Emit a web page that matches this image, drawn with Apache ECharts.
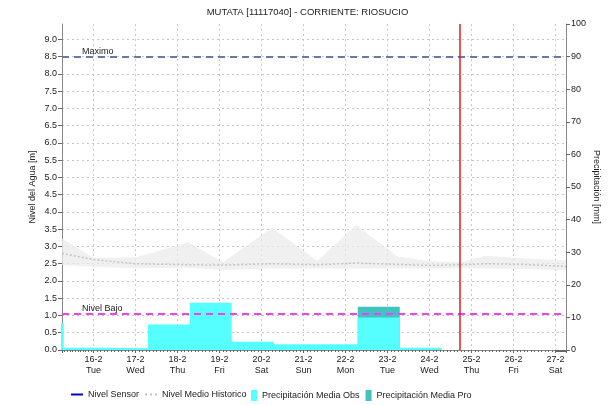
<!DOCTYPE html>
<html>
<head>
<meta charset="utf-8">
<script src="https://cdn.jsdelivr.net/npm/echarts@6/dist/echarts.min.js"></script>
<style>
  html, body { margin: 0; padding: 0; background: #fff; }
  #chart { width: 615px; height: 405px; }
</style>
</head>
<body>
<div id="chart"></div>
<script>
// banda historica (min / max) y nivel medio historico [m]
var histTimes = ['2021-02-15 06:00', '2021-02-16 00:00', '2021-02-17 00:00', '2021-02-18 06:00',
    '2021-02-19 02:00', '2021-02-20 06:00', '2021-02-21 08:00', '2021-02-22 06:00',
    '2021-02-23 06:00', '2021-02-24 00:00', '2021-02-24 18:00', '2021-02-25 08:00',
    '2021-02-26 06:00', '2021-02-27 06:00'];
var histMax = [3.23, 2.67, 2.68, 3.12, 2.54, 3.54, 2.58, 3.62, 2.70, 2.58, 2.54, 2.73, 2.65, 2.60];
var histMin = [2.46, 2.41, 2.37, 2.38, 2.32, 2.36, 2.36, 2.36, 2.36, 2.36, 2.37, 2.36, 2.35, 2.31];
var histMedio = [2.80, 2.62, 2.50, 2.47, 2.46, 2.50, 2.47, 2.52, 2.48, 2.45, 2.47, 2.50, 2.48, 2.42];

// precipitacion diaria (de 07:00 a 07:00) [mm]
var precipStart = ['2021-02-14 07:00', '2021-02-15 07:00', '2021-02-16 07:00', '2021-02-17 07:00',
    '2021-02-18 07:00', '2021-02-19 07:00', '2021-02-20 07:00', '2021-02-21 07:00',
    '2021-02-22 07:00', '2021-02-23 07:00', '2021-02-24 07:00'];
var precipObs = [8.2, 0.7, 0.5, 7.8, 14.5, 2.5, 1.8, 1.8, 10.0, 0.7, 0];
var precipProStart = ['2021-02-22 07:00', '2021-02-23 07:00'];
var precipPro = [13.3, 0];

// niveles de referencia
var nivelMaximo = 8.5;
var nivelBajo = 1.05;
var ahora = '2021-02-24 17:00';

var dias = ['Sun', 'Mon', 'Tue', 'Wed', 'Thu', 'Fri', 'Sat'];
var fuente = 'Liberation Sans';

function pares(xs, ys) {
    return xs.map(function (x, i) { return [x, ys[i]]; });
}

var myChart = echarts.init(document.getElementById('chart'));

var option = {
    animation: false,
    textStyle: { fontFamily: fuente },
    title: {
        text: 'MUTATA [11117040] - CORRIENTE: RIOSUCIO',
        left: 'center',
        top: 2,
        textStyle: { fontSize: 9.5, fontWeight: 'normal', color: '#222', fontFamily: fuente }
    },
    grid: { left: 62, right: 49, top: 24, bottom: 55 },
    legend: [{
        left: 71, top: 390, padding: 0,
        itemWidth: 12, itemHeight: 2, itemGap: 6,
        textStyle: { fontSize: 9, color: '#222' },
        data: [
            { name: 'Nivel Sensor', icon: 'rect' },
            { name: 'Nivel Medio Historico', icon: 'path://M0,0h2v2h-2z M5,0h2v2h-2z M10,0h2v2h-2z' }
        ]
    }, {
        left: 251, top: 390, padding: 0,
        itemWidth: 6, itemHeight: 11, itemGap: 6,
        textStyle: { fontSize: 9, color: '#222' },
        data: [
            { name: 'Precipitación Media Obs', icon: 'rect' },
            { name: 'Precipitación Media Pro', icon: 'rect' }
        ]
    }],
    xAxis: {
        type: 'time',
        min: '2021-02-15 06:00',
        max: '2021-02-27 06:00',
        minInterval: 86400000,
        maxInterval: 86400000,
        axisLine: { lineStyle: { color: '#888' } },
        axisTick: { show: true, length: 3, lineStyle: { color: '#666' } },
        minorTick: { show: true, splitNumber: 12, length: 2, lineStyle: { color: '#666' } },
        splitLine: { show: true, lineStyle: { color: '#c8c8c8', type: [2, 3] } },
        axisLabel: {
            fontSize: 9, color: '#222', margin: 4, lineHeight: 11,
            formatter: function (v) {
                var d = new Date(v);
                return d.getDate() + '-' + (d.getMonth() + 1) + '\n' + dias[d.getDay()];
            }
        }
    },
    yAxis: [{
        type: 'value',
        name: 'Nivel del Agua [m]',
        nameLocation: 'middle',
        nameMoveOverlap: false,
        nameGap: 25,
        nameTextStyle: { fontSize: 9, color: '#222' },
        min: 0,
        max: nivelMaximo / 0.9,
        interval: 0.5,
        axisLine: { show: true, lineStyle: { color: '#888' } },
        axisTick: { show: true, length: 4, lineStyle: { color: '#666' } },
        splitLine: { show: true, showMaxLine: false, lineStyle: { color: '#c8c8c8', type: [2, 3] } },
        axisLabel: {
            fontSize: 9, color: '#222', margin: 5, showMaxLabel: false,
            formatter: function (v) { return v.toFixed(1); }
        }
    }, {
        type: 'value',
        name: 'Precipitación [mm]',
        nameLocation: 'middle',
        nameMoveOverlap: false,
        nameRotate: -90,
        nameGap: 26,
        nameTextStyle: { fontSize: 9, color: '#222' },
        position: 'right',
        min: 0,
        max: 100,
        interval: 10,
        axisLine: { show: true, lineStyle: { color: '#888' } },
        axisTick: { show: true, length: 4, lineStyle: { color: '#666' } },
        splitLine: { show: false },
        axisLabel: { fontSize: 9, color: '#222', margin: 5 }
    }],
    series: [{
        name: 'bandaMin',
        type: 'line',
        stack: 'hist',
        symbol: 'none',
        lineStyle: { opacity: 0 },
        data: pares(histTimes, histMin),
        z: 1
    }, {
        name: 'bandaRango',
        type: 'line',
        stack: 'hist',
        symbol: 'none',
        lineStyle: { opacity: 0 },
        areaStyle: { color: '#ebebeb', opacity: 0.75 },
        data: pares(histTimes, histMax.map(function (v, i) { return v - histMin[i]; })),
        z: 1
    }, {
        name: 'Nivel Medio Historico',
        type: 'line',
        symbol: 'none',
        color: '#c4c4c4',
        lineStyle: { color: '#c4c4c4', width: 1.5, type: [2, 2] },
        data: pares(histTimes, histMedio),
        z: 2
    }, {
        name: 'Precipitación Media Pro',
        type: 'line',
        yAxisIndex: 1,
        step: 'end',
        symbol: 'none',
        color: '#40c4c0',
        lineStyle: { opacity: 0 },
        areaStyle: { color: '#40c4c0', opacity: 1 },
        data: pares(precipProStart, precipPro),
        z: 3
    }, {
        name: 'Precipitación Media Obs',
        type: 'line',
        yAxisIndex: 1,
        step: 'end',
        symbol: 'none',
        color: '#55ffff',
        lineStyle: { opacity: 0 },
        areaStyle: { color: '#55ffff', opacity: 1 },
        data: pares(precipStart, precipObs),
        z: 4
    }, {
        name: 'Nivel Sensor',
        type: 'line',
        symbol: 'none',
        color: '#0000cc',
        lineStyle: { color: '#0000cc', width: 1.5 },
        data: [],
        z: 6,
        markLine: {
            silent: true,
            symbol: ['none', 'none'],
            data: [{
                yAxis: nivelMaximo,
                lineStyle: { color: '#6a78a8', width: 2, type: [7, 5] },
                label: {
                    formatter: 'Maximo', position: 'insideStartTop', distance: [20, 1],
                    fontSize: 9, color: '#222'
                }
            }, {
                yAxis: nivelBajo,
                lineStyle: { color: '#ee44ee', width: 2, type: [7, 5] },
                label: {
                    formatter: 'Nivel Bajo', position: 'insideStartTop', distance: [20, 1],
                    fontSize: 9, color: '#222'
                }
            }, {
                xAxis: ahora,
                lineStyle: { color: '#dd2020', width: 1.5, type: 'solid' },
                label: { show: false }
            }]
        }
    }]
};

myChart.setOption(option);
</script>
</body>
</html>
